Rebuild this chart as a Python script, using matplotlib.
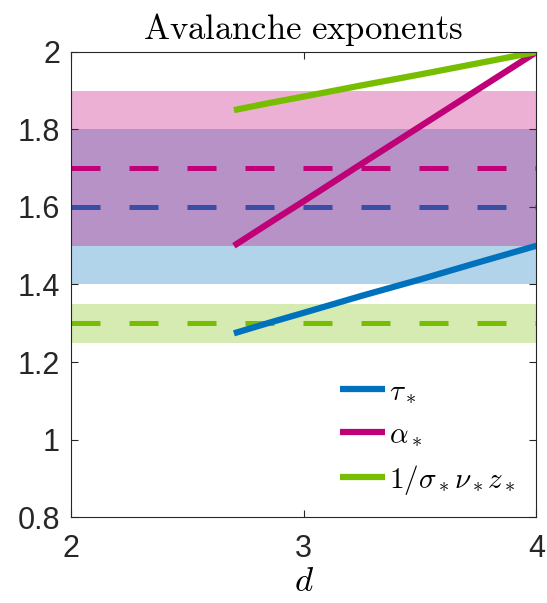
import numpy as np
import matplotlib.pyplot as plt

plt.rcParams['mathtext.fontset'] = 'cm'
plt.rcParams['font.family'] = ['Liberation Sans', 'DejaVu Sans']

# data
d_range = [2, 4]
d_curve = [2.7, 2.85, 3.0, 3.25, 3.5, 3.75, 4.0]
tau = [1.274, 1.301, 1.327, 1.371, 1.413, 1.457, 1.5]
alpha = [1.5, 1.558, 1.615, 1.712, 1.808, 1.904, 2.0]
inv_snz = [1.85, 1.868, 1.885, 1.914, 1.942, 1.971, 2.0]

# measured values (dashed) with error bands
tau_meas, tau_band = 1.6, (1.4, 1.8)
alpha_meas, alpha_band = 1.7, (1.5, 1.9)
snz_meas, snz_band = 1.3, (1.25, 1.35)

c_blue = '#0072BD'
c_mag = '#BF0077'
c_green = '#77BE00'

fig = plt.figure(figsize=(5.47, 6.03), dpi=100)
ax = fig.add_axes([0.1298, 0.1426, 0.851, 0.7712])

dash = (0, (5.8, 5.8))
lw_d = 3.6

# bands + dashed lines, drawn in order (later fills tint earlier lines)
ax.fill_between(d_range, *tau_band, color=c_blue, alpha=0.3, lw=0, zorder=1)
ax.plot(d_range, [tau_meas] * 2, color=c_blue, lw=lw_d, linestyle=dash, zorder=2)
ax.fill_between(d_range, *alpha_band, color=c_mag, alpha=0.31, lw=0, zorder=3)
ax.plot(d_range, [alpha_meas] * 2, color=c_mag, lw=lw_d, linestyle=dash, zorder=4)
ax.fill_between(d_range, *snz_band, color=c_green, alpha=0.3, lw=0, zorder=5)
ax.plot(d_range, [snz_meas] * 2, color=c_green, lw=lw_d, linestyle=dash, zorder=6)

# predictions
ax.plot(d_curve, tau, color=c_blue, lw=4.5, label=r'$\tau_*$', solid_capstyle='butt', zorder=7)
ax.plot(d_curve, alpha, color=c_mag, lw=4.5, label=r'$\alpha_*$', solid_capstyle='butt', zorder=7)
ax.plot(d_curve, inv_snz, color=c_green, lw=4.5, label=r'$1/\sigma_*\nu_*z_*$',
        solid_capstyle='butt', zorder=7)

ax.set_xlim(2, 4)
ax.set_ylim(0.8, 2)
ax.set_xticks([2, 3, 4])
ax.set_yticks([0.8, 1, 1.2, 1.4, 1.6, 1.8, 2])
ax.set_yticklabels(['0.8', '1', '1.2', '1.4', '1.6', '1.8', '2'])
ax.tick_params(direction='in', length=5, width=0.8, labelsize=22,
               colors='#262626', top=True, right=True, pad=8)
ax.tick_params(axis='x', pad=12)
for s in ax.spines.values():
    s.set_color('#262626')
    s.set_linewidth(0.8)
    s.set_zorder(10)

ax.set_title(r'$\mathrm{Avalanche\ exponents}$', fontsize=25, pad=9)
ax.set_xlabel(r'$d$', fontsize=25, labelpad=1)

ax.legend(loc='lower right', bbox_to_anchor=(0.981, 0.019), frameon=False,
          fontsize=21, handlelength=1.55, handletextpad=0.15,
          labelspacing=0.5, borderaxespad=0)

fig.savefig('out.png', dpi=100)
